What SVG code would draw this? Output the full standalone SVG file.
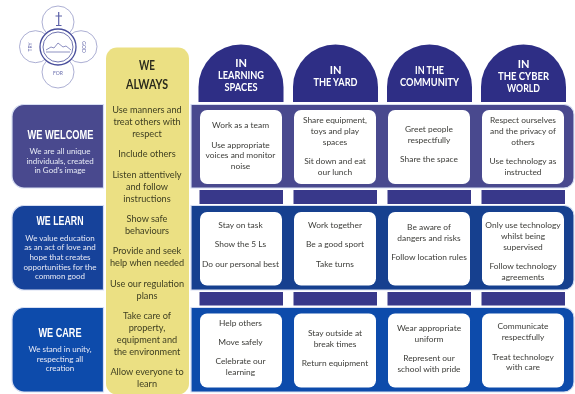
<svg xmlns="http://www.w3.org/2000/svg" width="575" height="394" viewBox="0 0 575 394">
<style>
text{font-family:"Lato","Noto Sans",sans-serif;text-anchor:middle}
.b{font-size:8.4px;fill:#3c3c38}
.y{font-size:9.2px;fill:#3f3f22}
.h{font-family:"Liberation Sans",sans-serif;font-weight:700}
.a{font-size:11px;fill:#fff}
.w{font-size:14px;fill:#2b2b1c}
.l{font-size:12.500px;fill:#fff}
.d{font-size:8px;fill:#e8eaf6}
.card{fill:#fff}
.arch{fill:#2d2f85}
.bar{fill:#37388a}
.halo{stroke:#d7def2;stroke-width:1.2}
.lg{fill:#fff;stroke:#7478b6;stroke-width:.6}
.lt{font-size:5px;fill:#6a6eae}
</style>
<defs><filter id="soft" x="-2%" y="-2%" width="104%" height="104%"><feGaussianBlur stdDeviation="0.45"/></filter></defs>
<rect width="575" height="394" fill="#fff"/>
<g filter="url(#soft)">
<g id="logo">
<circle class="lg" cx="58" cy="22" r="16"/><circle class="lg" cx="35.500" cy="46.700" r="16"/><circle class="lg" cx="81" cy="46.700" r="16"/><circle class="lg" cx="58" cy="72" r="16"/>
<circle cx="58" cy="47" r="18" fill="#fff" stroke="#4a4f9c" stroke-width="1.300"/><circle cx="58" cy="47" r="15" fill="none" stroke="#4a4f9c" stroke-width=".8"/>
<path d="M46 50l5-3 3 1 4-5 5 4 3-1 5 4M46 52h24" fill="none" stroke="#5d62a8" stroke-width=".7"/>
<path d="M58.700 12v13M55.500 16h6.500M56 25.500h5.500" fill="none" stroke="#5d62a8" stroke-width="1.200"/>
<text class="lt" transform="translate(32 47) rotate(-90)">TRY</text>
<text class="lt" transform="translate(82 47) rotate(90)">GOD</text>
<text class="lt" x="58" y="75">FOR</text>
</g>
<g id="row-bars">
<rect class="bar" x="199.500" y="190" width="83.500" height="14"/><rect class="bar" x="293.500" y="190" width="83.500" height="14"/><rect class="bar" x="387.500" y="190" width="83.500" height="14"/><rect class="bar" x="481.500" y="190" width="83.500" height="14"/>
<rect class="bar" x="199.500" y="292" width="83.500" height="13.500"/><rect class="bar" x="293.500" y="292" width="83.500" height="13.500"/><rect class="bar" x="387.500" y="292" width="83.500" height="13.500"/><rect class="bar" x="481.500" y="292" width="83.500" height="13.500"/>
</g>
<g id="band-welcome"><path class="halo" fill="#484a8e" d="M191 104.500H564a10 10 0 0 1 10 10V178a10 10 0 0 1-10 10H191z"/>
<rect class="card" x="200" y="110" width="82" height="74" rx="7"/><rect class="card" x="294" y="110" width="82" height="74" rx="7"/><rect class="card" x="388" y="110" width="82" height="74" rx="7"/><rect class="card" x="482" y="110" width="82" height="74" rx="7"/>
<g class="b">
<text x="240.500" y="128">Work as a team</text><text x="240.500" y="147.500">Use appropriate</text><text x="240.500" y="158">voices and monitor</text><text x="240.500" y="169">noise</text>
<text x="335" y="123">Share equipment,</text><text x="335" y="134">toys and play</text><text x="335" y="145">spaces</text><text x="335" y="164">Sit down and eat</text><text x="335" y="175">our lunch</text>
<text x="429" y="132">Greet people</text><text x="429" y="143">respectfully</text><text x="429" y="162">Share the space</text>
<text x="523" y="123">Respect ourselves</text><text x="523" y="134">and the privacy of</text><text x="523" y="145">others</text><text x="523" y="164">Use technology as</text><text x="523" y="175">instructed</text>
</g></g>
<g id="band-learn"><path class="halo" fill="#14408f" d="M191 205.500H564a10 10 0 0 1 10 10V280a10 10 0 0 1-10 10H191z"/>
<rect class="card" x="200" y="212" width="82" height="73.500" rx="7"/><rect class="card" x="294" y="212" width="82" height="73.500" rx="7"/><rect class="card" x="388" y="212" width="82" height="73.500" rx="7"/><rect class="card" x="482" y="212" width="82" height="73.500" rx="7"/>
<g class="b">
<text x="240.500" y="228">Stay on task</text><text x="240.500" y="247">Show the 5 Ls</text><text x="240.500" y="267">Do our personal best</text>
<text x="335" y="228">Work together</text><text x="335" y="247">Be a good sport</text><text x="335" y="267">Take turns</text>
<text x="429" y="230">Be aware of</text><text x="429" y="241">dangers and risks</text><text x="429" y="260">Follow location rules</text>
<text x="523" y="228">Only use technology</text><text x="523" y="239">whilst being</text><text x="523" y="250">supervised</text><text x="523" y="269">Follow technology</text><text x="523" y="280">agreements</text>
</g></g>
<g id="band-care"><path class="halo" fill="#0f4cab" d="M191 307.500H564a10 10 0 0 1 10 10V382a10 10 0 0 1-10 10H191z"/>
<rect class="card" x="200" y="313.500" width="82" height="74" rx="7"/><rect class="card" x="294" y="313.500" width="82" height="74" rx="7"/><rect class="card" x="388" y="313.500" width="82" height="74" rx="7"/><rect class="card" x="482" y="313.500" width="82" height="74" rx="7"/>
<g class="b">
<text x="240.500" y="325.500">Help others</text><text x="240.500" y="345">Move safely</text><text x="240.500" y="364">Celebrate our</text><text x="240.500" y="375">learning</text>
<text x="335" y="336">Stay outside at</text><text x="335" y="346.500">break times</text><text x="335" y="366">Return equipment</text>
<text x="429" y="331">Wear appropriate</text><text x="429" y="342">uniform</text><text x="429" y="361">Represent our</text><text x="429" y="372">school with pride</text>
<text x="523" y="329">Communicate</text><text x="523" y="340">respectfully</text><text x="523" y="360">Treat technology</text><text x="523" y="370">with care</text>
</g></g>
<g id="always"><rect x="106" y="47.500" width="83" height="347" rx="11" fill="#ebe083"/>
<g class="h w"><text x="147" y="69.500" textLength="16" lengthAdjust="spacingAndGlyphs">WE</text><text x="147" y="88.500" textLength="42" lengthAdjust="spacingAndGlyphs">ALWAYS</text></g>
<g class="y">
<text x="147" y="113">Use manners and</text><text x="147" y="125">treat others with</text><text x="147" y="137">respect</text><text x="147" y="157">Include others</text>
<text x="147" y="178">Listen attentively</text><text x="147" y="190">and follow</text><text x="147" y="201.500">instructions</text>
<text x="147" y="222">Show safe</text><text x="147" y="234">behaviours</text><text x="147" y="254">Provide and seek</text><text x="147" y="266">help when needed</text>
<text x="147" y="287">Use our regulation</text><text x="147" y="299">plans</text>
<text x="147" y="319">Take care of</text><text x="147" y="331">property,</text><text x="147" y="343">equipment and</text><text x="147" y="354.500">the environment</text>
<text x="147" y="375">Allow everyone to</text><text x="147" y="387">learn</text>
</g></g>
<g id="head-spaces"><path class="arch" d="M198.500 102V87a42.500 42.500 0 0 1 85 0v15z"/><g class="h a"><text x="241" y="67">IN</text><text x="241" y="79" textLength="46" lengthAdjust="spacingAndGlyphs">LEARNING</text><text x="241" y="90.500" textLength="33" lengthAdjust="spacingAndGlyphs">SPACES</text></g></g>
<g id="head-yard"><path class="arch" d="M293 102V87a42.500 42.500 0 0 1 85 0v15z"/><g class="h a"><text x="335.500" y="74">IN</text><text x="335.500" y="85.500" textLength="44" lengthAdjust="spacingAndGlyphs">THE YARD</text></g></g>
<g id="head-community"><path class="arch" d="M387 102V87a42.500 42.500 0 0 1 85 0v15z"/><g class="h a"><text x="429.500" y="74" textLength="29" lengthAdjust="spacingAndGlyphs">IN THE</text><text x="429.500" y="85.500" textLength="59" lengthAdjust="spacingAndGlyphs">COMMUNITY</text></g></g>
<g id="head-cyber"><path class="arch" d="M481 102V87a42.500 42.500 0 0 1 85 0v15z"/><g class="h a"><text x="523.500" y="68">IN</text><text x="523.500" y="80" textLength="51" lengthAdjust="spacingAndGlyphs">THE CYBER</text><text x="523.500" y="91.500" textLength="33" lengthAdjust="spacingAndGlyphs">WORLD</text></g></g>
<g id="we-welcome"><path class="halo" fill="#484a8e" d="M103.500 104.500H24a12 12 0 0 0-12 12V176a12 12 0 0 0 12 12h79.500z"/>
<text class="h l" x="60.500" y="138.500" textLength="66" lengthAdjust="spacingAndGlyphs">WE WELCOME</text><g class="d"><text x="60" y="153.500">We are all unique</text><text x="60" y="163.500">individuals, created</text><text x="60" y="172.500">in God's image</text></g></g>
<g id="we-learn"><path class="halo" fill="#17439a" d="M103.500 205.500H24a12 12 0 0 0-12 12V278a12 12 0 0 0 12 12h79.500z"/>
<text class="h l" x="60" y="225" textLength="47" lengthAdjust="spacingAndGlyphs">WE LEARN</text><g class="d"><text x="60" y="240.500">We value education</text><text x="60" y="250">as an act of love and</text><text x="60" y="260">hope that creates</text><text x="60" y="269.500">opportunities for the</text><text x="60" y="279">common good</text></g></g>
<g id="we-care"><path class="halo" fill="#0f4cab" d="M103.500 307.500H24a12 12 0 0 0-12 12V380a12 12 0 0 0 12 12h79.500z"/>
<text class="h l" x="60" y="336.500" textLength="43" lengthAdjust="spacingAndGlyphs">WE CARE</text><g class="d"><text x="60" y="351.500">We stand in unity,</text><text x="60" y="361.500">respecting all</text><text x="60" y="371">creation</text></g></g>
</g>
</svg>
